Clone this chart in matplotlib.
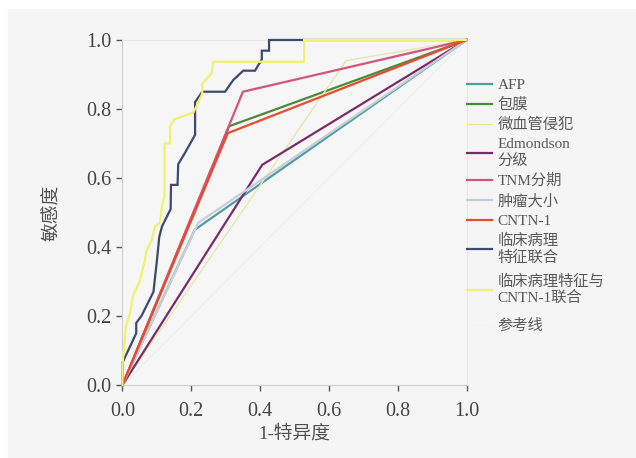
import matplotlib.pyplot as plt
from matplotlib.patches import Rectangle

plt.rcParams['font.family'] = ['Liberation Serif', 'Noto Sans CJK SC']

# ROC curves: (1-specificity, sensitivity)
afp_x = [0, 0.21, 1]
afp_y = [0, 0.45, 1]
capsule_x = [0, 0.31, 1]
capsule_y = [0, 0.75, 1]
mvi_x = [0, 0.65, 1]
mvi_y = [0, 0.94, 1]
edmondson_x = [0, 0.406, 1]
edmondson_y = [0, 0.638, 1]
tnm_x = [0, 0.35, 1]
tnm_y = [0, 0.85, 1]
size_x = [0, 0.22, 1]
size_y = [0, 0.47, 1]
cntn_x = [0, 0.306, 1]
cntn_y = [0, 0.73, 1]
clin_x = [0, 0, 0.04, 0.04, 0.055, 0.09, 0.10, 0.107, 0.115, 0.14, 0.141, 0.16, 0.162,
          0.18, 0.211, 0.211, 0.232, 0.298, 0.322, 0.351, 0.385, 0.405, 0.405, 0.426,
          0.426, 1]
clin_y = [0, 0.065, 0.15, 0.18, 0.20, 0.27, 0.36, 0.43, 0.46, 0.51, 0.58, 0.58, 0.64,
          0.67, 0.725, 0.82, 0.85, 0.85, 0.884, 0.911, 0.911, 0.944, 0.969, 0.969,
          1.0, 1.0]
comb_x = [0, 0, 0.01, 0.022, 0.031, 0.05, 0.065, 0.07, 0.085, 0.095, 0.109, 0.115,
          0.122, 0.122, 0.138, 0.138, 0.151, 0.206, 0.216, 0.232, 0.232, 0.259, 0.264,
          0.528, 0.528, 1]
comb_y = [0, 0.06, 0.17, 0.21, 0.26, 0.30, 0.36, 0.39, 0.42, 0.46, 0.47, 0.52,
          0.55, 0.70, 0.70, 0.75, 0.77, 0.79, 0.81, 0.845, 0.874, 0.903, 0.937,
          0.937, 1.0, 1.0]
ref_x = [0, 1]
ref_y = [0, 1]

labels = ['AFP', '包膜', '微血管侵犯', 'Edmondson\n分级', 'TNM分期', '肿瘤大小', 'CNTN-1',
          '临床病理\n特征联合', '临床病理特征与\nCNTN-1联合', '参考线']
colors = ['#4f9ea0', '#4a8a3a', '#e4e7a6', '#7a2c69', '#d2557c', '#c9cdd9', '#ea4a2c',
          '#3d4a6c', '#eef26e', '#ececec']
widths = [1.6, 1.6, 0.9, 1.6, 1.6, 1.6, 1.6, 1.6, 1.6, 0.7]
xs = [afp_x, capsule_x, mvi_x, edmondson_x, tnm_x, size_x, cntn_x, clin_x, comb_x, ref_x]
ys = [afp_y, capsule_y, mvi_y, edmondson_y, tnm_y, size_y, cntn_y, clin_y, comb_y, ref_y]

fig = plt.figure(figsize=(6.36, 4.58), dpi=100)
fig.patch.set_facecolor('white')
fig.add_artist(Rectangle((8 / 636, 0), 1, 449 / 458, transform=fig.transFigure,
                         color='#f5f5f5', zorder=-1))

ax = fig.add_axes([0.1926, 0.1594, 0.5409, 0.7533])
ax.set_facecolor('#f6f6f6')

# reference line first so it sits underneath
ax.plot(ref_x, ref_y, color=colors[-1], lw=widths[-1], zorder=1)
handles = []
for i in range(9):
    h, = ax.plot(xs[i], ys[i], color=colors[i], lw=widths[i], clip_on=False,
                 solid_joinstyle='miter', zorder=2 + i)
    handles.append(h)
ref_handle, = ax.plot([], [], color='#f3f3f3', lw=0.8)

ax.set_xlim(0, 1)
ax.set_ylim(0, 1)
ax.set_xticks([0, 0.2, 0.4, 0.6, 0.8, 1.0])
ax.set_yticks([0, 0.2, 0.4, 0.6, 0.8, 1.0])
ax.set_xticklabels(['0.0', '0.2', '0.4', '0.6', '0.8', '1.0'])
ax.set_yticklabels(['0.0', '0.2', '0.4', '0.6', '0.8', '1.0'])
ax.tick_params(direction='out', length=4, width=1, color='#555555',
               labelsize=14.5, labelcolor='#454545')
ax.tick_params(axis='x', pad=8)
ax.tick_params(axis='y', pad=4)
for s in ['left', 'bottom']:
    ax.spines[s].set_color('#d0d0d0')
    ax.spines[s].set_linewidth(0.8)
for s in ['top', 'right']:
    ax.spines[s].set_color('#e4e4e4')
    ax.spines[s].set_linewidth(0.6)

ax.set_xlabel('1-特异度', fontsize=13.5, color='#505050', labelpad=3)
ax.set_ylabel('敏感度', fontsize=13.5, color='#505050', labelpad=18)

leg_kw = dict(loc='upper left', frameon=False, fontsize=11, labelcolor='#5a5a5a',
              handlelength=1.7, handletextpad=0.35, borderpad=0, borderaxespad=0)
leg1 = ax.legend(handles[:8], labels[:8], bbox_to_anchor=(1.0, 0.889),
                 labelspacing=0.39, **leg_kw)
ax.add_artist(leg1)
ax.legend([handles[8], ref_handle], labels[8:], bbox_to_anchor=(1.0, 0.32),
          labelspacing=0.9, **leg_kw)

fig.savefig('out.png', dpi=100, facecolor=fig.get_facecolor())
